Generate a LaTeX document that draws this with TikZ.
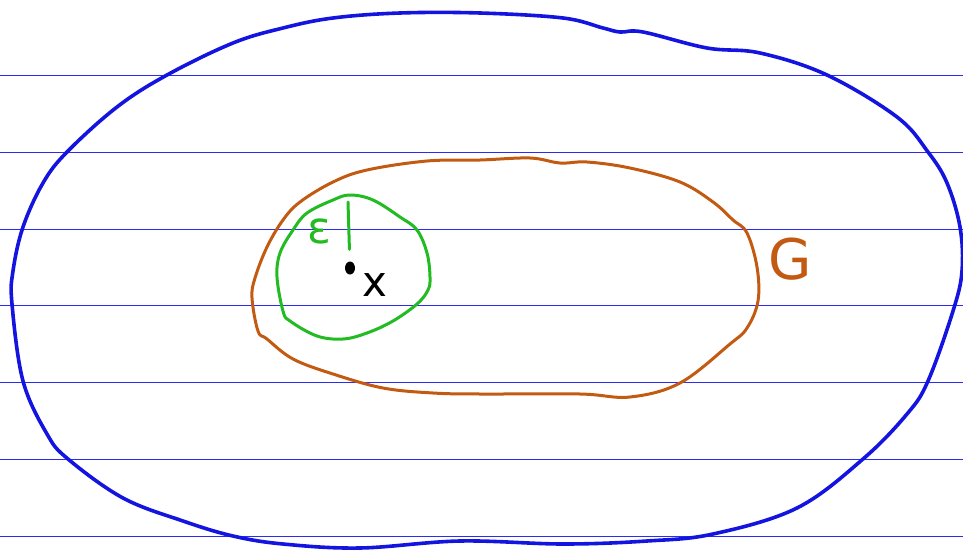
\documentclass[tikz,border=0pt]{standalone}
\usepackage{fontspec}
\setmainfont{DejaVu Sans}
\usepackage{tikz}
\usetikzlibrary{positioning,shapes.geometric}
\definecolor{ruled}{HTML}{2B2BF5}
\definecolor{outer}{HTML}{1414E0}
\definecolor{setG}{HTML}{C25A12}
\definecolor{ball}{HTML}{22BB22}

\begin{document}
\begin{tikzpicture}[x=1pt, y=-1pt,
  rule/.style={draw=ruled, line width=0.8pt},
  curve/.style={line width=3pt, line join=round},
  lab/.style={inner sep=0pt, font=\fontsize{42}{42}\selectfont}]
\useasboundingbox (0,0) rectangle (963,551);
% ruled paper
\foreach \y in {75,152,229,305,382,459,536}
  \draw[rule] (0,\y) -- (963,\y);
% outer region
\draw[curve, draw=outer, line width=3.6pt] plot[smooth cycle, tension=0.6] coordinates {
  (400,13) (480,13) (563,18) (603,28) (620,32) (643,32) (707,48) (760,53)
  (827,75) (897,117) (928,152) (947,183) (960,227) (962,271) (953,311)
  (928,381) (907,414) (863,459) (797,508) (713,534) (647,541) (563,544)
  (460,541) (360,548) (283,544) (233,536) (183,521) (123,498) (68,459)
  (47,434) (23,381) (12,304) (13,271) (23,227) (43,183) (67,152) (117,107)
  (167,75) (233,43) (283,28) (333,18)};
% the set G
\draw[curve, draw=setG] plot[smooth cycle, tension=0.6] coordinates {
  (427,161) (480,160) (530,158) (560,163) (587,162) (630,168) (680,182)
  (713,202) (733,220) (747,233) (757,267) (758,301) (747,328) (730,344)
  (680,383) (630,397) (580,394) (480,394) (433,393) (383,388) (333,374)
  (293,359) (267,339) (258,331) (252,298) (255,278) (267,247) (283,220)
  (300,202) (333,182) (367,170)};
% epsilon ball around x
\draw[curve, draw=ball] plot[smooth cycle, tension=0.6] coordinates {
  (350,195) (373,200) (400,217) (417,230) (427,253) (430,277) (428,290)
  (417,304) (393,321) (367,333) (343,339) (317,336) (290,321) (283,311)
  (277,277) (280,253) (293,230) (307,213) (333,200)};
\node[ellipse, fill=black, minimum width=10pt, minimum height=13pt, inner sep=0pt] (pt) at (350,268) {};
\coordinate (rtop) at (348,202);
\draw[curve, draw=ball, line cap=round, shorten >=12pt] (rtop) -- (pt);
\node[lab, text=ball, font=\fontsize{44}{44}\selectfont] (eps) at (319,231) {ε};
\node[lab, text=black] (xlab) at (375,285) {x};
\node[lab, text=setG, font=\fontsize{56}{56}\selectfont] (G) at (790,259) {G};
\end{tikzpicture}
\end{document}
